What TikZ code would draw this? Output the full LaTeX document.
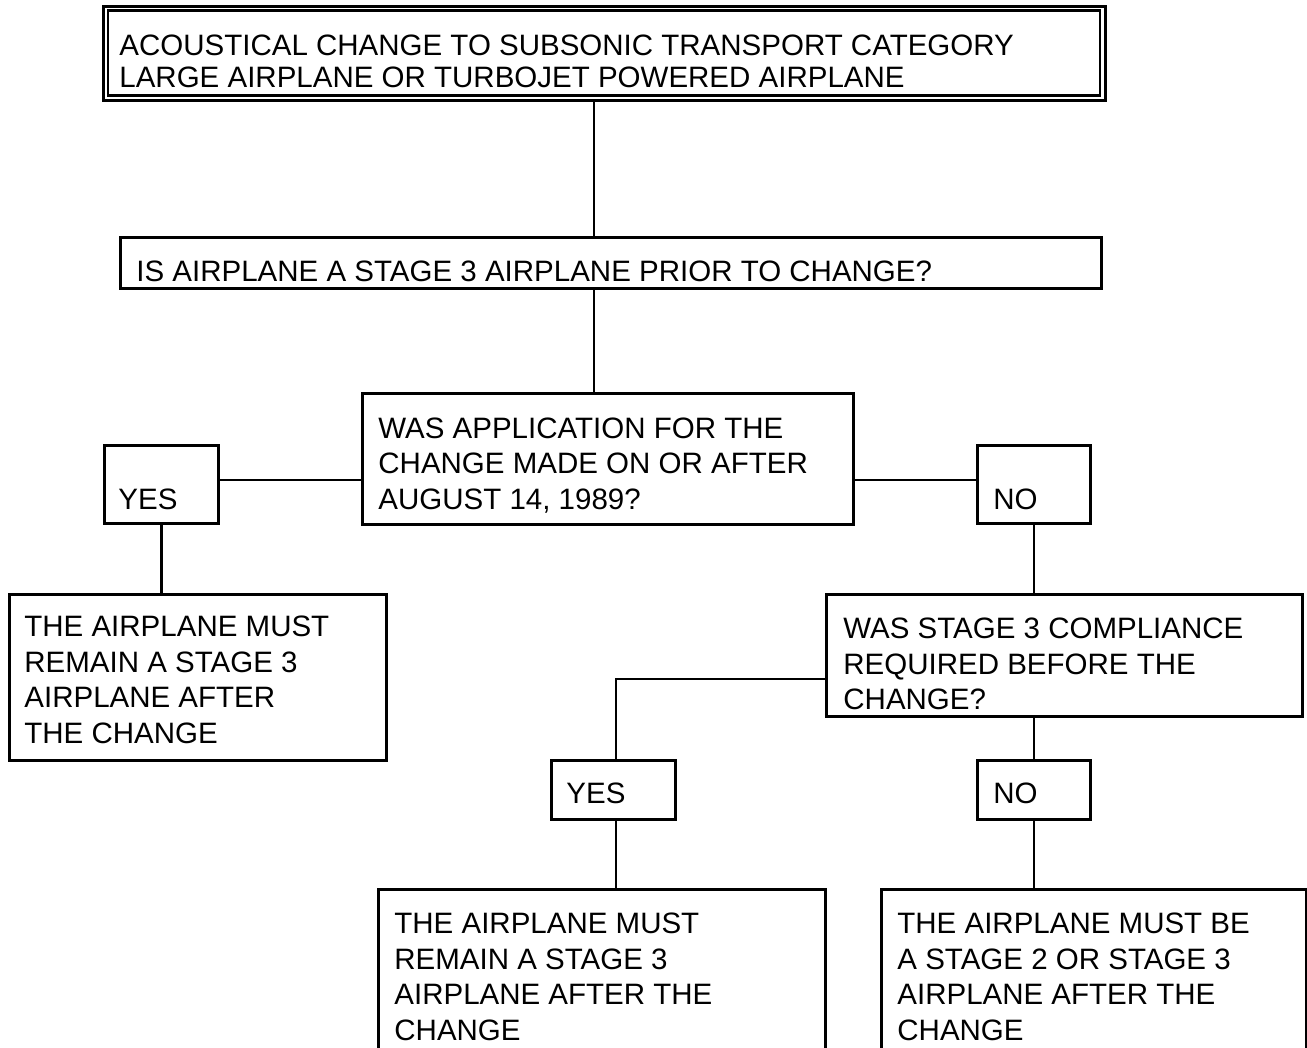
\documentclass[tikz,border=0pt]{standalone}
\usepackage{fontspec}
\setmainfont{Liberation Sans}
\usetikzlibrary{positioning}

\begin{document}
\begin{tikzpicture}[x=1pt,y=-1pt,line width=2.8pt,
    box/.style={draw,rectangle,inner sep=0pt,anchor=north west},
    txt/.style={inner sep=0pt,anchor=north west,align=left,
      font=\fontsize{29.5}{35.5}\selectfont}]
  \useasboundingbox (0,0) rectangle (1307,1048);
  % boxes
  \node[box,minimum width=1002pt,minimum height=94pt] (top) at (102,5) {};
  \node[box,line width=2.2pt,minimum width=992pt,minimum height=85pt] (topin) at (107,9.5) {};
  \node[box,minimum width=981pt,minimum height=51pt] (q1) at (119,236) {};
  \node[box,minimum width=491pt,minimum height=131pt] (q2) at (361,392) {};
  \node[box,minimum width=114pt,minimum height=78pt] (yes1) at (103,444) {};
  \node[box,minimum width=113pt,minimum height=78pt] (no1) at (976,444) {};
  \node[box,minimum width=377pt,minimum height=166pt] (res1) at (8,593) {};
  \node[box,minimum width=476pt,minimum height=122pt] (q3) at (825,593) {};
  \node[box,minimum width=124pt,minimum height=59pt] (yes2) at (550,759) {};
  \node[box,minimum width=113pt,minimum height=59pt] (no2) at (976,759) {};
  \node[box,minimum width=447pt,minimum height=182pt] (res2) at (377,888) {};
  \node[box,minimum width=425pt,minimum height=182pt] (res3) at (880,888) {};
  % texts
  \node[txt,font=\fontsize{29.5}{32}\selectfont] (ttop) at (118,34)
    {ACOUSTICAL CHANGE TO SUBSONIC TRANSPORT CATEGORY\\
     LARGE AIRPLANE OR TURBOJET POWERED AIRPLANE};
  \node[txt] (tq1) at (135,259.5) {IS AIRPLANE A STAGE 3 AIRPLANE PRIOR TO CHANGE?};
  \node[txt] (tq2) at (377,416.5)
    {WAS APPLICATION FOR THE\\ CHANGE MADE ON OR AFTER\\ AUGUST 14, 1989?};
  \node[txt] (tyes1) at (117,487.5) {YES};
  \node[txt] (tno1) at (992,487.5) {NO};
  \node[txt] (tres1) at (23,614.5)
    {THE AIRPLANE MUST\\ REMAIN A STAGE 3\\ AIRPLANE AFTER\\ THE CHANGE};
  \node[txt] (tq3) at (842,616.5)
    {WAS STAGE 3 COMPLIANCE\\ REQUIRED BEFORE THE\\ CHANGE?};
  \node[txt] (tyes2) at (565,781.5) {YES};
  \node[txt] (tno2) at (992,781.5) {NO};
  \node[txt] (tres2) at (393,911.5)
    {THE AIRPLANE MUST\\ REMAIN A STAGE 3\\ AIRPLANE AFTER THE\\ CHANGE};
  \node[txt] (tres3) at (896,911.5)
    {THE AIRPLANE MUST BE\\ A STAGE 2 OR STAGE 3\\ AIRPLANE AFTER THE\\ CHANGE};
  % connectors
  \coordinate (spine) at (594,0);
  \coordinate (level) at (0,480);
  \coordinate (elbow) at (616,679);
  \draw (top.south -| spine) -- (q1.north -| spine);
  \draw (q1.south -| spine) -- (q2.north -| spine);
  \draw (yes1.east |- level) -- (q2.west |- level);
  \draw (q2.east |- level) -- (no1.west |- level);
  \draw (yes1.south) -- (res1.north -| yes1.south);
  \draw (no1.south) -- (q3.north -| no1.south);
  \draw (q3.west |- elbow) -- (elbow) -- (yes2.north -| elbow);
  \draw (q3.south -| no2.north) -- (no2.north);
  \draw (yes2.south -| elbow) -- (res2.north -| elbow);
  \draw (no2.south) -- (res3.north -| no2.south);
\end{tikzpicture}
\end{document}
